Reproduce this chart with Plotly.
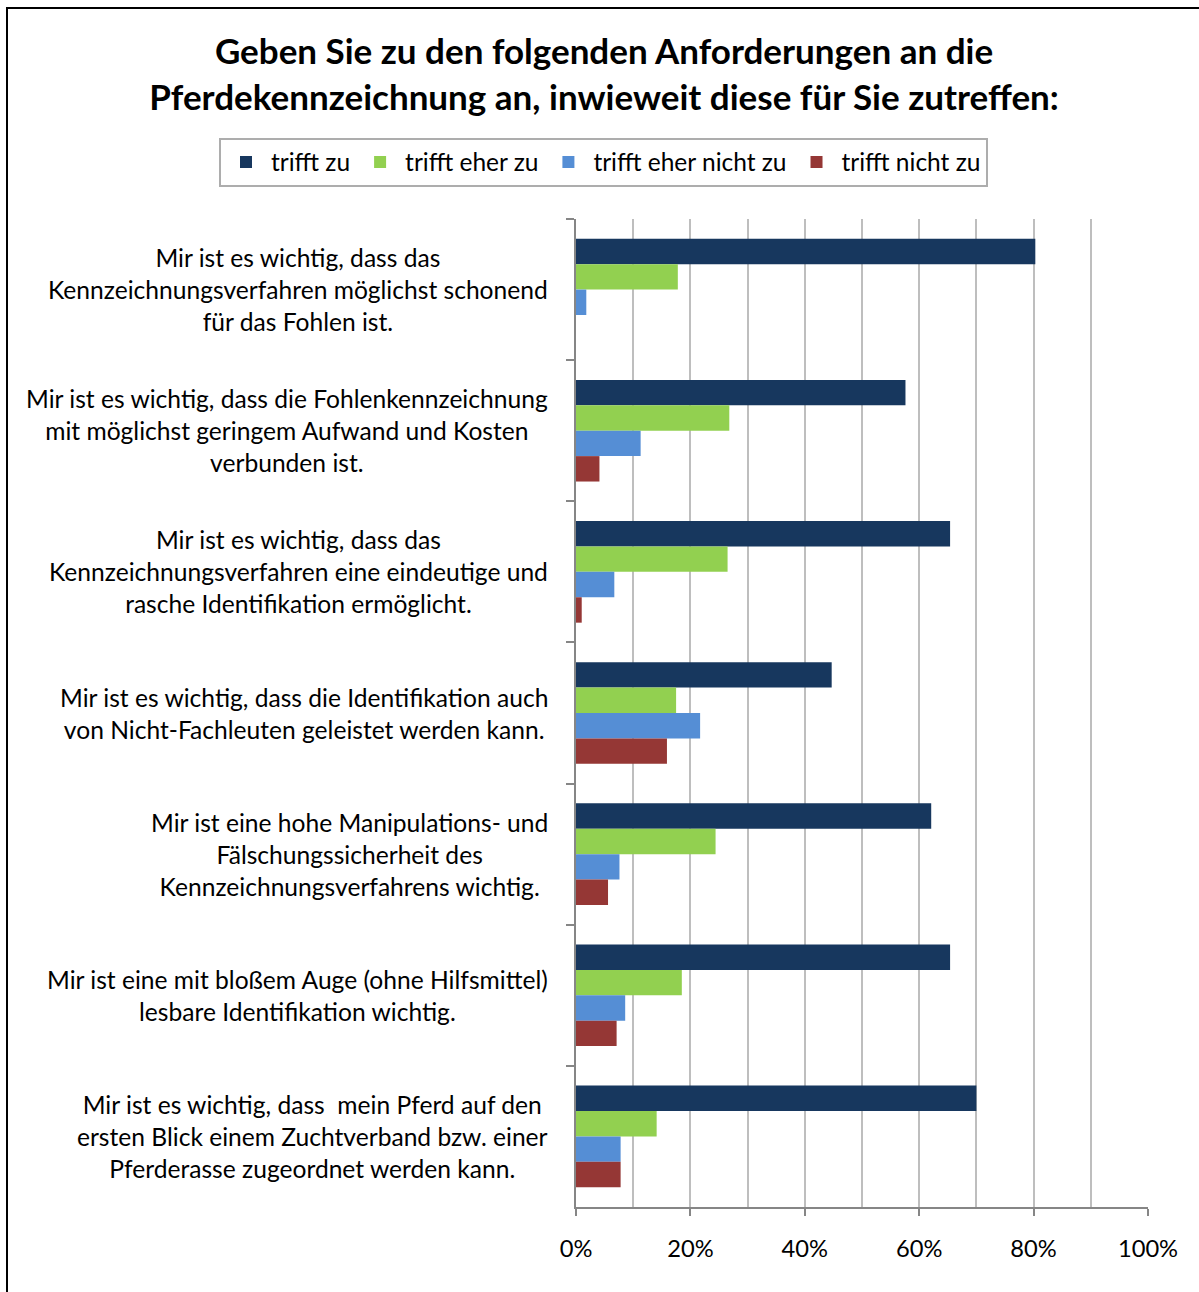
import plotly.graph_objects as go

# Survey statements (one group of bars per statement)
statements = [
    "Mir ist es wichtig, dass das<br>Kennzeichnungsverfahren möglichst schonend<br>für das Fohlen ist.",
    "Mir ist es wichtig, dass die Fohlenkennzeichnung<br>mit möglichst geringem Aufwand und Kosten<br>verbunden ist.",
    "Mir ist es wichtig, dass das<br>Kennzeichnungsverfahren eine eindeutige und<br>rasche Identifikation ermöglicht.",
    "Mir ist es wichtig, dass die Identifikation auch<br>von Nicht-Fachleuten geleistet werden kann.",
    "Mir ist eine hohe Manipulations- und<br>Fälschungssicherheit des<br>Kennzeichnungsverfahrens wichtig.",
    "Mir ist eine mit bloßem Auge (ohne Hilfsmittel)<br>lesbare Identifikation wichtig.",
    "Mir ist es wichtig, dass  mein Pferd auf den<br>ersten Blick einem Zuchtverband bzw. einer<br>Pferderasse zugeordnet werden kann.",
]

# Answer shares (fraction of respondents)
trifft_zu = [0.803, 0.576, 0.654, 0.447, 0.621, 0.654, 0.700]
trifft_eher_zu = [0.178, 0.268, 0.265, 0.175, 0.244, 0.185, 0.141]
trifft_eher_nicht_zu = [0.018, 0.113, 0.067, 0.217, 0.076, 0.086, 0.078]
trifft_nicht_zu = [0.000, 0.041, 0.010, 0.159, 0.056, 0.071, 0.078]

series_names = ["trifft zu", "trifft eher zu", "trifft eher nicht zu", "trifft nicht zu"]
series_values = [trifft_zu, trifft_eher_zu, trifft_eher_nicht_zu, trifft_nicht_zu]
series_colors = ["#17375E", "#92D050", "#558ED5", "#953735"]

x_ticks = [0, 0.2, 0.4, 0.6, 0.8, 1.0]
x_tick_labels = ["0%", "20%", "40%", "60%", "80%", "100%"]

FONT = "Lato"

fig = go.Figure()
for name, vals, col in zip(series_names, series_values, series_colors):
    fig.add_trace(go.Bar(
        y=statements, x=vals, name=name, orientation="h",
        marker=dict(color=col, line=dict(width=0)),
    ))

# Statement labels: centred multi-line blocks right-aligned to the axis
for s in statements:
    fig.add_annotation(
        x=-0.045, xref="paper", y=s, yref="y",
        text=s, showarrow=False, xanchor="right", yanchor="middle", align="center",
        font=dict(family=FONT, size=24.6, color="#000000"),
    )

W, H = 1199, 1292
L, R, T, B = 576, W - 1148, 219, H - 1207
pw, ph = W - L - R, H - T - B

# Outer chart frame
fig.add_shape(
    type="rect", xref="paper", yref="paper",
    x0=(7 - L) / pw, x1=(W + 40 - L) / pw,
    y0=-(H + 40 - (T + ph)) / ph, y1=(T + ph - 8) / ph,
    line=dict(color="#000000", width=2), fillcolor="rgba(0,0,0,0)", layer="below",
)

fig.update_layout(
    width=W, height=H,
    margin=dict(l=L, r=R, t=T, b=B, pad=0),
    paper_bgcolor="#FFFFFF", plot_bgcolor="#FFFFFF",
    barmode="group", bargap=0.28, bargroupgap=0,
    font=dict(family=FONT, size=24, color="#000000"),
    title=dict(
        text="Geben Sie zu den folgenden Anforderungen an die<br>Pferdekennzeichnung an, inwieweit diese für Sie zutreffen:",
        x=604 / W, xanchor="center", xref="container",
        y=1 - 64 / H, yanchor="middle", yref="container",
        font=dict(family=FONT, size=35, color="#000000", weight="bold"),
    ),
    # Legend sits above the plot area, left-anchored in the margin so it can
    # span wider than the plot itself on a single row
    legend=dict(
        orientation="h", xref="paper", x=(219 - L) / pw, xanchor="left",
        yref="paper", y=(T + ph - 162) / ph, yanchor="middle",
        bordercolor="#ADADAD", borderwidth=2, bgcolor="#FFFFFF",
        font=dict(family=FONT, size=24.5, color="#000000"),
        traceorder="normal", itemwidth=40,
    ),
    showlegend=True,
)

fig.update_xaxes(
    range=[0, 1], tickvals=x_ticks, ticktext=x_tick_labels,
    showgrid=True, gridcolor="#BEBEBE", gridwidth=2,
    minor=dict(dtick=0.1, showgrid=True, gridcolor="#BEBEBE", gridwidth=2),
    ticks="outside", ticklen=7, tickwidth=2, tickcolor="#868686",
    showline=True, linecolor="#868686", linewidth=2,
    zeroline=False, ticklabelstandoff=13,
    tickfont=dict(family=FONT, size=23.7, color="#000000"),
)
fig.update_yaxes(
    autorange="reversed", showticklabels=False,
    ticks="outside", tickson="boundaries", ticklen=8, tickwidth=2, tickcolor="#868686",
    showline=True, linecolor="#868686", linewidth=2, showgrid=False,
)

fig.write_html("out.html")
